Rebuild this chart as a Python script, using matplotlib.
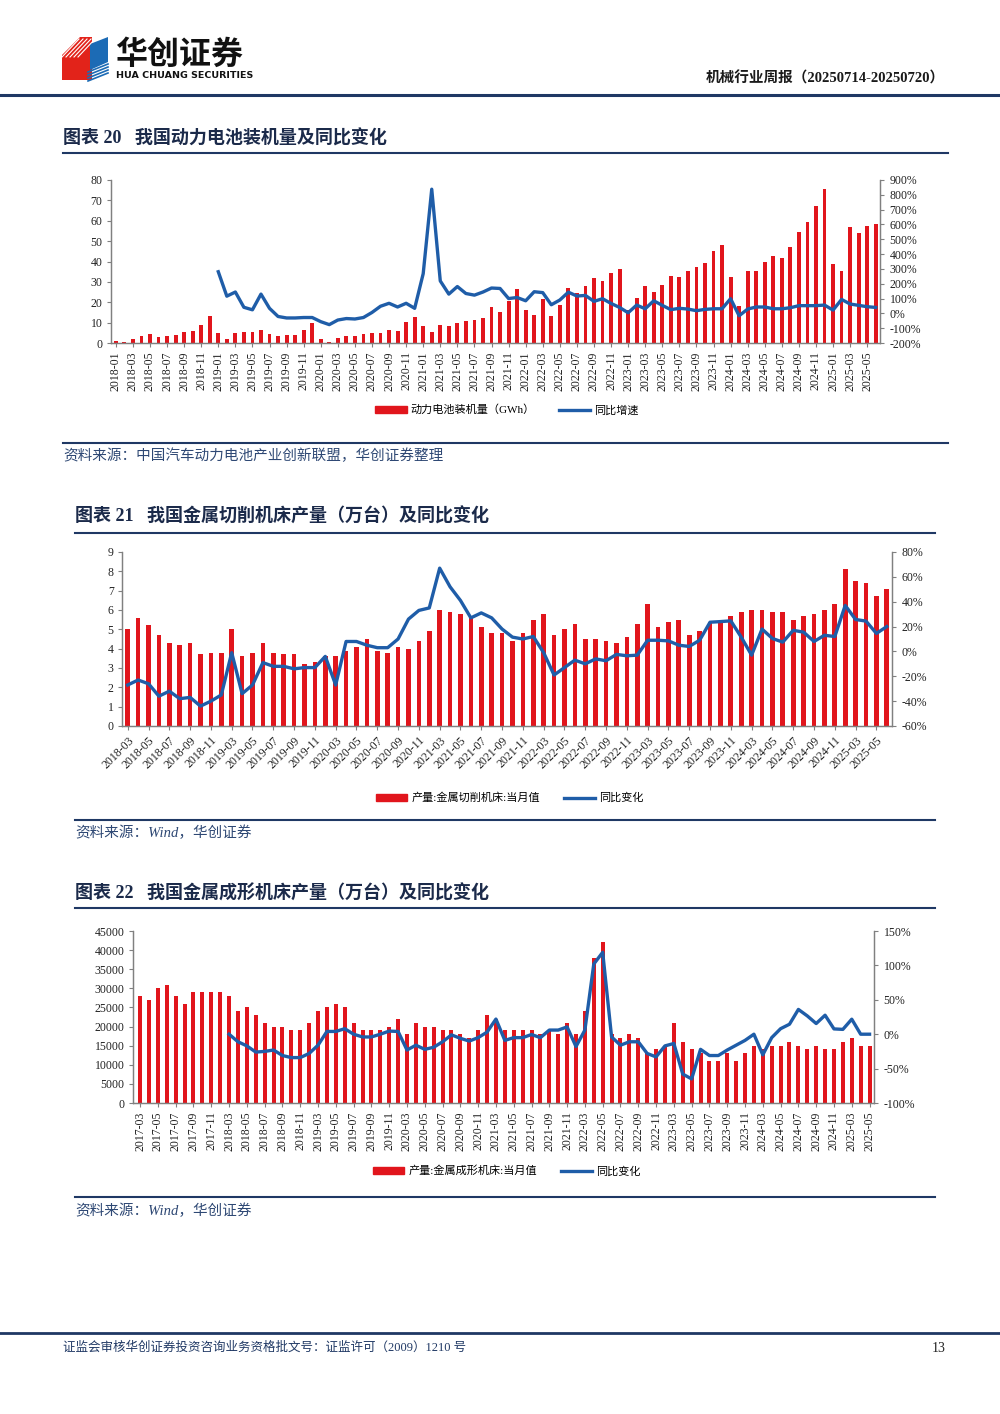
import matplotlib
matplotlib.use("Agg")
import matplotlib.pyplot as plt
from matplotlib.patches import Patch, Polygon
from matplotlib.lines import Line2D
import numpy as np

plt.rcParams['font.family'] = ['Liberation Serif', 'Noto Sans CJK SC']
plt.rcParams['axes.unicode_minus'] = False

RED = '#E1151C'
BLUE = '#1F5DA8'
NAVY = '#1F3864'
GRAY = '#808080'
SRC = '#2E4874'

# ---------------- chart 20: power battery installations ----------------
cats_20 = [f"{y}-{m:02d}" for y in range(2018, 2026) for m in range(1, 13)][:90]
install_gwh = [
    1.1, 0.7, 1.8, 3.6, 4.4, 2.8, 3.3, 4.1, 5.6, 5.7, 8.9, 13.4,
    4.9, 2.1, 5.1, 5.3, 5.6, 6.6, 4.6, 3.3, 3.9, 4.1, 6.2, 9.7,
    2.1, 0.3, 2.6, 3.4, 3.4, 4.6, 4.9, 5.1, 6.6, 5.9, 10.5, 12.8,
    8.5, 5.4, 9.0, 8.2, 9.8, 11.0, 11.2, 12.5, 17.9, 15.4, 20.8, 26.3,
    16.2, 13.7, 21.4, 13.3, 18.8, 27.2, 24.4, 28.0, 31.7, 30.6, 34.5, 36.3,
    16.1, 22.1, 28.0, 25.1, 28.3, 32.9, 32.2, 35.5, 37.5, 39.3, 45.0, 48.0,
    32.3, 18.2, 35.2, 35.5, 39.9, 42.8, 41.7, 47.3, 54.6, 59.3, 67.4, 75.6,
    38.8, 35.2, 56.8, 54.2, 57.4, 58.4,
]
install_yoy = [np.nan] * 12 + [
    281, 116, 144, 41, 24, 130, 34, -21, -31, -31, -28, -28,
    -56, -76, -45, -35, -38, -28, 6, 48, 68, 43, 68, 34,
    268, 838, 219, 130, 181, 134, 123, 144, 171, 168, 100, 107,
    85, 146, 140, 58, 90, 143, 117, 121, 81, 99, 67, 40,
    4, 56, 31, 85, 54, 25, 34, 29, 18, 27, 31, 31,
    99, -16, 29, 43, 43, 31, 31, 38, 52, 52, 52, 56,
    22, 94, 63, 54, 45, 40,
]

# ---------------- chart 21: metal cutting machine tools ----------------
cats_21 = [f"{y}-{m:02d}" for y in range(2018, 2025) for m in range(3, 13)] + \
          [f"2025-{m:02d}" for m in range(3, 7)]
cutting_out = [
    5.0, 5.6, 5.2, 4.7, 4.3, 4.2, 4.3, 3.7, 3.8, 3.8,
    5.0, 3.6, 3.8, 4.3, 3.8, 3.7, 3.7, 3.2, 3.3, 3.6,
    3.6, 3.9, 4.1, 4.5, 3.9, 3.8, 4.1, 4.0, 4.4, 4.9,
    6.0, 5.9, 5.8, 5.6, 5.1, 4.8, 4.8, 4.4, 4.8, 5.5,
    5.8, 4.7, 5.0, 5.3, 4.5, 4.5, 4.4, 4.3, 4.6, 5.3,
    6.3, 5.1, 5.4, 5.5, 4.7, 4.9, 5.4, 5.4, 5.7, 5.9,
    6.0, 6.0, 5.9, 5.9, 5.5, 5.7, 5.8, 6.0, 6.3, 8.1,
    7.5, 7.4, 6.7, 7.1,
]
cutting_yoy = [
    -27, -23, -26, -36, -32, -38, -37, -44, -40, -35,
    -1, -34, -27, -9, -12, -12, -14, -13, -13, -4,
    -27, 8, 8, 5, 3, 3, 10, 26, 33, 35,
    67, 52, 41, 27, 31, 27, 18, 11.5, 10, 12,
    -1, -19, -13, -7, -10, -6, -7.5, -2.4, -3.5, -3,
    9, 9, 8.5, 5, 4, 9, 23.5, 24, 24.6, 11.5,
    -3, 18, 10.4, 7.5, 17, 15.5, 8, 13, 12, 37,
    25.7, 24.4, 14.5, 20,
]

# ---------------- chart 22: metal forming machine tools ----------------
cats_22 = [f"{y}-{m:02d}" for y in range(2017, 2025) for m in range(3, 13)] + \
          [f"2025-{m:02d}" for m in range(3, 6)]
forming_out = [
    28000, 27000, 30000, 31000, 28000, 26000, 29000, 29000, 29000, 29000,
    28000, 24000, 25000, 23000, 21000, 20000, 20000, 19000, 19000, 21000,
    24000, 25000, 26000, 25000, 21000, 19000, 19000, 19000, 20000, 22000,
    18000, 21000, 20000, 20000, 19000, 19000, 18000, 17000, 19000, 23000,
    22000, 19000, 19000, 19000, 19000, 18000, 19000, 18000, 21000, 18000,
    24000, 38000, 42000, 18000, 17000, 18000, 17000, 13000, 14000, 15000,
    21000, 16000, 14000, 13000, 11000, 11000, 13000, 11000, 13000, 15000,
    14000, 15000, 15000, 16000, 15000, 14000, 15000, 14000, 14000, 16000,
    17000, 15000, 15000,
]
forming_yoy = [np.nan] * 10 + [
    0, -11, -17, -26, -25, -23, -31, -34, -34, -28,
    -16, 4, 4, 8, 0, -4, -4, 0, 4.5, 4,
    -23, -16, -22, -19, -11, -1, -6, -10, -5, 3,
    22, -9, -5, -5, -0.5, -5, 6, 6, 10.6, -18,
    6, 102, 119, -4, -16, -11, -11, -28, -33, -17,
    -13.5, -58, -65, -22, -31, -31, -23, -16, -9, 0,
    -30, -5, 8, 14.5, 36, 26.6, 15.5, 27.6, 7.7, 7,
    21.8, 0, 0,
]

W, H = 1000, 1414
fig = plt.figure(figsize=(W / 100, H / 100), dpi=100)


def P(x, y):
    return (x / W, 1 - y / H)


def hline(y, x0, x1, lw=1.5, color=NAVY):
    (a, b), (c, d) = P(x0, y), P(x1, y)
    fig.add_artist(Line2D([a, c], [b, d], transform=fig.transFigure, color=color, lw=lw))


def text(x, y, s, **kw):
    fx, fy = P(x, y)
    fig.text(fx, fy, s, **kw)


# header logo
fig.add_artist(Polygon([P(62, 55), P(80, 37), P(92, 37), P(92, 80), P(62, 80)],
                       closed=True, transform=fig.transFigure, color='#E2231A', lw=0))
for k in range(5):
    fig.add_artist(Line2D([P(62, 57)[0] + k * 0.004, P(79, 39)[0] + k * 0.004],
                          [P(62, 57)[1], P(79, 39)[1]],
                          transform=fig.transFigure, color='white', lw=0.8))
fig.add_artist(Polygon([P(90, 44), P(108, 37), P(108, 62), P(90, 70)],
                       closed=True, transform=fig.transFigure, color='#1C6BB5', lw=0))
for k in range(4):
    fig.add_artist(Line2D([P(88, 72 + k * 3)[0], P(108, 64 + k * 3)[0]],
                          [P(88, 72 + k * 3)[1], P(108, 64 + k * 3)[1]],
                          transform=fig.transFigure, color='#1C6BB5', lw=1.2))
text(115, 55, "华创证券", fontsize=23, fontweight='bold', family='Noto Sans CJK SC',
     va='center', ha='left', color='#111111')
text(116, 75, "HUA CHUANG SECURITIES", fontsize=6.8, fontweight='bold', family='DejaVu Sans',
     va='center', ha='left', color='#111111')
text(945, 78, "机械行业周报（20250714-20250720）", fontsize=10.5, fontweight='bold',
     va='center', ha='right', color='#1A1A1A')
hline(95, 0, 1000, lw=2.2)

legend_kw = dict(frameon=False, ncol=2, fontsize=8, handlelength=2.8, handleheight=0.6,
                 handletextpad=0.35, columnspacing=2.2, loc='center')


def draw_chart(top, bottom, left, right, cats, bars, yoy, xlim, ylim, yticks,
               y2lim, y2ticks, rot, bar_label, line_label, leg_xy):
    (fx0, fy0), (fx1, fy1) = P(left, bottom), P(right, top)
    ax = fig.add_axes([fx0, fy0, fx1 - fx0, fy1 - fy0])
    x = np.arange(len(cats))
    ax.bar(x, bars, width=0.45, color=RED, zorder=2)
    ax.set_xlim(*xlim)
    ax.set_ylim(*ylim)
    ax.set_yticks(yticks)
    ax.set_yticklabels([str(v) for v in yticks])
    ax.set_xticks(x[::2])
    if rot == 90:
        ax.set_xticklabels(cats[::2], rotation=90, fontsize=8.5, va='top', ha='center')
    else:
        ax.set_xticklabels(cats[::2], rotation=45, fontsize=8.5, ha='right',
                           rotation_mode='anchor')
    ax2 = ax.twinx()
    ax2.plot(x, yoy, color=BLUE, lw=2.4, zorder=3)
    ax2.set_ylim(*y2lim)
    ax2.set_yticks(y2ticks)
    ax2.set_yticklabels([f"{v}%" for v in y2ticks])
    for a in (ax, ax2):
        a.spines['top'].set_visible(False)
        for s in ('left', 'right', 'bottom'):
            a.spines[s].set_color(GRAY)
            a.spines[s].set_linewidth(0.9)
        a.tick_params(axis='both', colors='#222222', labelsize=8.5, length=3,
                      width=0.8, color=GRAY, pad=3)
    ax2.tick_params(axis='y', pad=4)
    handles = [Patch(color=RED), Line2D([0], [0], color=BLUE, lw=2.4)]
    fig.legend(handles, [bar_label, line_label], bbox_to_anchor=P(*leg_xy),
               bbox_transform=fig.transFigure, **legend_kw)
    return ax, ax2


title_kw = dict(fontsize=13, fontweight='bold', va='center', ha='left', color='#1B2A4A')
src_kw = dict(fontsize=10.5, style='italic', va='center', ha='left', color=SRC)

# chart 20
text(63, 138, "图表 20   我国动力电池装机量及同比变化", **title_kw)
hline(153, 63, 948)
draw_chart(180, 343, 110.7, 880, cats_20, install_gwh, install_yoy, (-0.6, 89.5),
           (0, 80), list(range(0, 81, 10)), (-200, 900), list(range(-200, 901, 100)),
           90, "动力电池装机量（GWh）", "同比增速", (507, 410))
hline(443, 63, 948)
text(63, 456, "资料来源：中国汽车动力电池产业创新联盟，华创证券整理", **src_kw)

# chart 21
text(75, 516, "图表 21   我国金属切削机床产量（万台）及同比变化", **title_kw)
hline(533, 75, 935)
draw_chart(552, 726, 122, 892, cats_21, cutting_out, cutting_yoy, (-0.55, 73.5),
           (0, 9), list(range(0, 10)), (-60, 80), list(range(-60, 81, 20)),
           45, "产量:金属切削机床:当月值", "同比变化", (510, 798))
hline(820, 75, 935)
text(75, 833, "资料来源：Wind，华创证券", **src_kw)

# chart 22
text(75, 893, "图表 22   我国金属成形机床产量（万台）及同比变化", **title_kw)
hline(908, 75, 935)
draw_chart(931, 1103, 133, 874, cats_22, forming_out, forming_yoy, (-0.8, 82.5),
           (0, 45000), list(range(0, 45001, 5000)), (-100, 150), list(range(-100, 151, 50)),
           90, "产量:金属成形机床:当月值", "同比变化", (507, 1171))
hline(1197, 75, 935)
text(75, 1211, "资料来源：Wind，华创证券", **src_kw)

# footer
hline(1333, 0, 1000, lw=2.0)
text(63, 1348, "证监会审核华创证券投资咨询业务资格批文号：证监许可（2009）1210 号",
     fontsize=9, va='center', ha='left', color=NAVY)
text(946, 1348, "13", fontsize=10, va='center', ha='right', color='#222222')

fig.savefig("out.png", dpi=100)
